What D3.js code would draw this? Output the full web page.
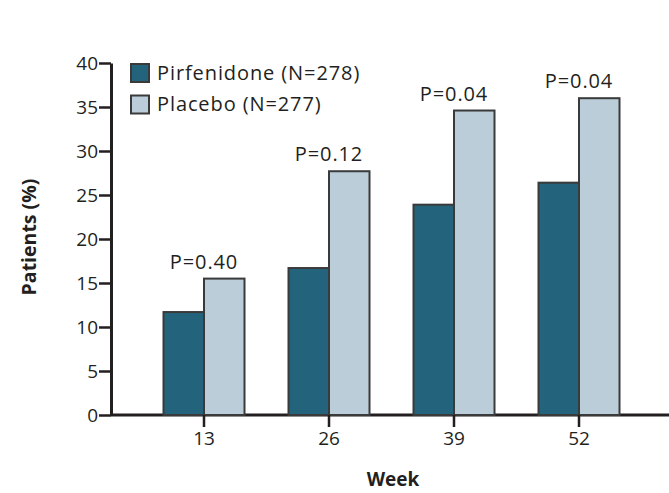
<!DOCTYPE html>
<html>
<head>
<meta charset="utf-8">
<script src="https://cdn.jsdelivr.net/npm/d3@7"></script>
<style>
  html, body { margin: 0; padding: 0; background: #fff; }
  svg { display: block; }
  text { font-family: "Open Sans", "Noto Sans", sans-serif; fill: #231f20; }
</style>
</head>
<body>
<svg id="chart" width="669" height="493"></svg>
<script>
// Share of patients at each visit week
const weeks = ["13", "26", "39", "52"];
const seriesNames = ["Pirfenidone (N=278)", "Placebo (N=277)"];
const pirfenidone = [11.7, 16.7, 23.9, 26.4];
const placebo = [15.5, 27.7, 34.6, 36.0];
const pValues = ["P=0.40", "P=0.12", "P=0.04", "P=0.04"];
const yTicks = [0, 5, 10, 15, 20, 25, 30, 35, 40];

const colors = ["#23637b", "#bacdd8"];
const ink = "#231f20";

const svg = d3.select("#chart");

const axisX = 111, baseY = 415, topY = 63;

const y = d3.scaleLinear().domain([0, 40]).range([baseY, topY]);
const x = d3.scaleBand().domain(weeks).range([141.5, 641.5]).paddingInner(0).paddingOuter(0);
const sub = d3.scaleBand().domain([0, 1]).range([-40.5, 40.5]);

// X axis baseline (drawn first so bar outlines sit on top)
svg.append("line")
  .attr("x1", axisX).attr("x2", 669)
  .attr("y1", baseY).attr("y2", baseY)
  .attr("stroke", ink).attr("stroke-width", 3);

// Bars
const groups = svg.append("g").selectAll("g")
  .data(weeks)
  .join("g")
  .attr("transform", d => `translate(${x(d) + x.bandwidth() / 2},0)`);

groups.each(function (w, i) {
  const g = d3.select(this);
  [pirfenidone[i], placebo[i]].forEach((v, s) => {
    g.append("rect")
      .attr("x", sub(s))
      .attr("width", sub.bandwidth())
      .attr("y", y(v))
      .attr("height", y(0) - y(v))
      .attr("fill", colors[s])
      .attr("stroke", "#3a3a3a")
      .attr("stroke-width", 2);
  });
  g.append("text")
    .attr("x", 0)
    .attr("y", y(placebo[i]) - 10)
    .attr("text-anchor", "middle")
    .attr("font-size", 20)
    .attr("letter-spacing", 0.9)
    .text(pValues[i]);
});

// Y axis
const yAxis = d3.axisLeft(y).tickValues(yTicks).tickSize(12).tickPadding(1).tickSizeOuter(0);
const gy = svg.append("g").attr("transform", `translate(${axisX},0)`).call(yAxis);
gy.select(".domain").attr("stroke", ink).attr("stroke-width", 3);
gy.selectAll(".tick line").attr("stroke", ink).attr("stroke-width", 2.5);
gy.selectAll(".tick text")
  .attr("font-size", 19)
  .attr("font-family", "Open Sans, sans-serif")
  .attr("fill", ink)
  .attr("dy", "0.34em");

// X axis ticks and labels
const xAxis = d3.axisBottom(x).tickSize(12).tickPadding(5).tickSizeOuter(0);
const gx = svg.append("g").attr("transform", `translate(0,${baseY})`).call(xAxis);
gx.select(".domain").remove();
gx.selectAll(".tick line").attr("stroke", ink).attr("stroke-width", 2.5);
gx.selectAll(".tick text")
  .attr("font-size", 19)
  .attr("font-family", "Open Sans, sans-serif")
  .attr("fill", ink);

// Axis titles
svg.append("text")
  .attr("transform", "translate(36,237) rotate(-90)")
  .attr("text-anchor", "middle")
  .attr("font-size", 19.5)
  .attr("font-weight", "bold")
  .text("Patients (%)");

svg.append("text")
  .attr("x", 393).attr("y", 486)
  .attr("text-anchor", "middle")
  .attr("font-size", 19)
  .attr("font-weight", "bold")
  .text("Week");

// Legend
const legend = svg.append("g").attr("transform", "translate(130,63)");
seriesNames.forEach((name, s) => {
  const row = legend.append("g").attr("transform", `translate(0,${s * 31.5})`);
  row.append("rect")
    .attr("x", 1).attr("y", 1)
    .attr("width", 18).attr("height", 18)
    .attr("fill", colors[s])
    .attr("stroke", "#3a3a3a")
    .attr("stroke-width", 2);
  row.append("text")
    .attr("x", 27).attr("y", 16.5)
    .attr("font-size", 20)
    .attr("letter-spacing", 0.9)
    .text(name);
});
</script>
</body>
</html>
